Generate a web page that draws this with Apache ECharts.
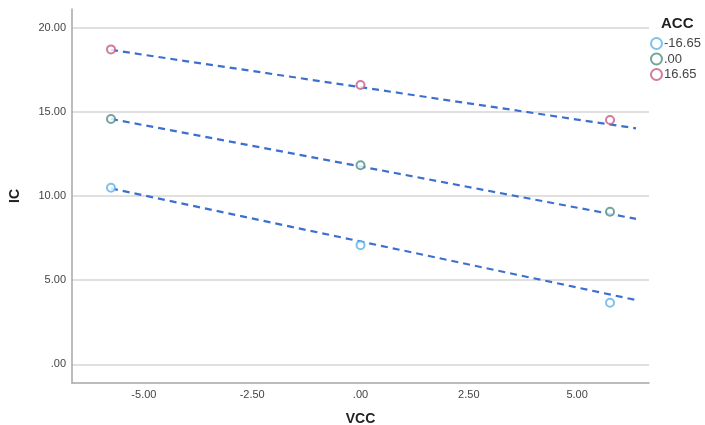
<!DOCTYPE html>
<html>
<head>
<meta charset="utf-8">
<script src="https://cdn.jsdelivr.net/npm/echarts@6/dist/echarts.min.js"></script>
<style>html,body{margin:0;padding:0;background:#fff}#c{width:705px;height:425px}</style>
</head>
<body>
<div id="c"></div>
<script>
const vcc = [-5.76, 0, 5.76];
const accLevels = ['-16.65', '.00', '16.65'];
const icLow = [10.49, 7.08, 3.66];
const icMid = [14.58, 11.83, 9.06];
const icHigh = [18.71, 16.59, 14.51];
const fitX = [-5.76, 6.36];
const fitLow = [10.45, 3.82];
const fitMid = [14.58, 8.64];
const fitHigh = [18.68, 14.02];
const xTicks = [-5, -2.5, 0, 2.5, 5];
const yTicks = [0, 5, 10, 15, 20];

const colors = ['#5ab4ea', '#4f8f84', '#c75a84'];
const fitColor = '#3c6fcf';
const fmt = v => { let s = Number(v).toFixed(2); return s.replace(/^(-?)0\./, '$1.'); };
const pairs = (xs, ys) => xs.map((x, i) => [x, ys[i]]);

const pts = [icLow, icMid, icHigh];
const fits = [fitLow, fitMid, fitHigh];
const series = [];
fits.forEach((f, i) => {
  series.push({
    type: 'line', name: 'fit' + i, data: pairs(fitX, f), showSymbol: false, symbol: 'none',
    lineStyle: { color: fitColor, width: 2.2, type: [7, 5] }, z: 2, silent: true
  });
});
pts.forEach((p, i) => {
  series.push({
    type: 'scatter', name: accLevels[i], data: pairs(vcc, p), symbol: 'emptyCircle', symbolSize: 8,
    itemStyle: { color: colors[i], borderColor: colors[i], borderWidth: 1.6 }, z: 3
  });
});

const chart = echarts.init(document.getElementById('c'), null, { renderer: 'canvas' });
chart.setOption({
  animation: false,
  backgroundColor: '#fff',
  grid: { left: 72, right: 56, top: 9, bottom: 42, containLabel: false, outerBoundsMode: 'none' },
  title: { text: 'ACC', left: 656, top: 11, textStyle: { fontFamily: 'Liberation Sans, Arial', fontSize: 15, fontWeight: 'bold', color: '#222' } },
  legend: {
    data: accLevels.map((n, i) => ({ name: n, icon: 'emptyCircle' })),
    orient: 'vertical', left: 650, top: 37, padding: 0, itemWidth: 13, itemHeight: 11, itemGap: 2.5,
    textStyle: { fontFamily: 'Liberation Sans, Arial', fontSize: 13, lineHeight: 11, color: '#444', padding: [0, 0, 0, -4] },
    itemStyle: { borderWidth: 1.6 }
  },
  xAxis: {
    type: 'value', min: -6.66, max: 6.66,
    name: 'VCC', nameLocation: 'middle', nameGap: 29,
    nameTextStyle: { fontFamily: 'Liberation Sans, Arial', fontSize: 14, fontWeight: 'bold', color: '#222' },
    axisLine: { show: true, onZero: false, lineStyle: { color: '#a6a6a6', width: 1.5 } },
    axisTick: { show: false, customValues: xTicks },
    axisLabel: { customValues: xTicks, formatter: fmt, fontFamily: 'Liberation Sans, Arial', fontSize: 11, color: '#444', margin: 6 },
    splitLine: { show: false }
  },
  yAxis: {
    type: 'value', min: -1.11, max: 21.11,
    name: 'IC', nameLocation: 'middle', nameGap: 50, nameRotate: 90,
    nameTextStyle: { fontFamily: 'Liberation Sans, Arial', fontSize: 14, fontWeight: 'bold', color: '#222' },
    axisLine: { show: true, onZero: false, lineStyle: { color: '#a6a6a6', width: 1.5 } },
    axisTick: { show: false, customValues: yTicks },
    axisLabel: { customValues: yTicks, formatter: fmt, fontFamily: 'Liberation Sans, Arial', fontSize: 11, color: '#444', margin: 6 },
    splitLine: { show: true, lineStyle: { color: '#d6d6d6', width: 1.5 } }
  },
  series: series
});
</script>
</body>
</html>
